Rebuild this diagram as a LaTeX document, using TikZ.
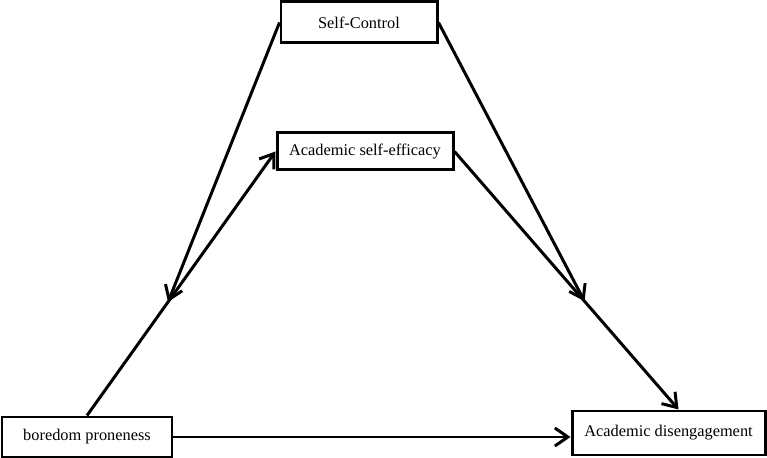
\documentclass[tikz,border=0pt]{standalone}
\usepackage{fontspec}
\setmainfont{Liberation Serif}
\usetikzlibrary{arrows.meta,calc}

\begin{document}
\begin{tikzpicture}[box/.style = {draw, line width=1.7pt, align=center, inner sep=0pt, font=\fontsize{9.3}{11}\selectfont},
                    link/.style = {line width=1.7pt, -{Straight Barb[length=2.6mm, width=3.6mm, line width=1.7pt]}}]
				\useasboundingbox (0,0) rectangle (15.34,9.16);
				\node (SC) [box, minimum width=3.12cm, minimum height=0.82cm] at (7.18,8.71) {Self-Control};
				\node (ASE) [box, minimum width=3.52cm, minimum height=0.74cm] at (7.30,6.13) {Academic self-efficacy};
				\node (BP) [box, minimum width=3.40cm, minimum height=0.80cm] at (1.74,0.42) {boredom proneness};
				\node (AD) [box, minimum width=3.86cm, minimum height=0.88cm] at (13.37,0.50) {Academic disengagement};

				\coordinate (M1) at ($(BP.north)!0.43!(ASE.west)$);
				\coordinate (M2) at ($(ASE.east)!0.58!([xshift=0.2cm]AD.north)$);

				\draw[link] (BP.north) -- (ASE.west);
				\draw[link] (ASE.east) -- ([xshift=0.2cm]AD.north);
				\draw[link] (BP.east) -- (BP.east -| AD.west);
				\draw[link] (SC.west) -- (M1);
				\draw[link] (SC.east) -- (M2);
			\end{tikzpicture}
\end{document}
